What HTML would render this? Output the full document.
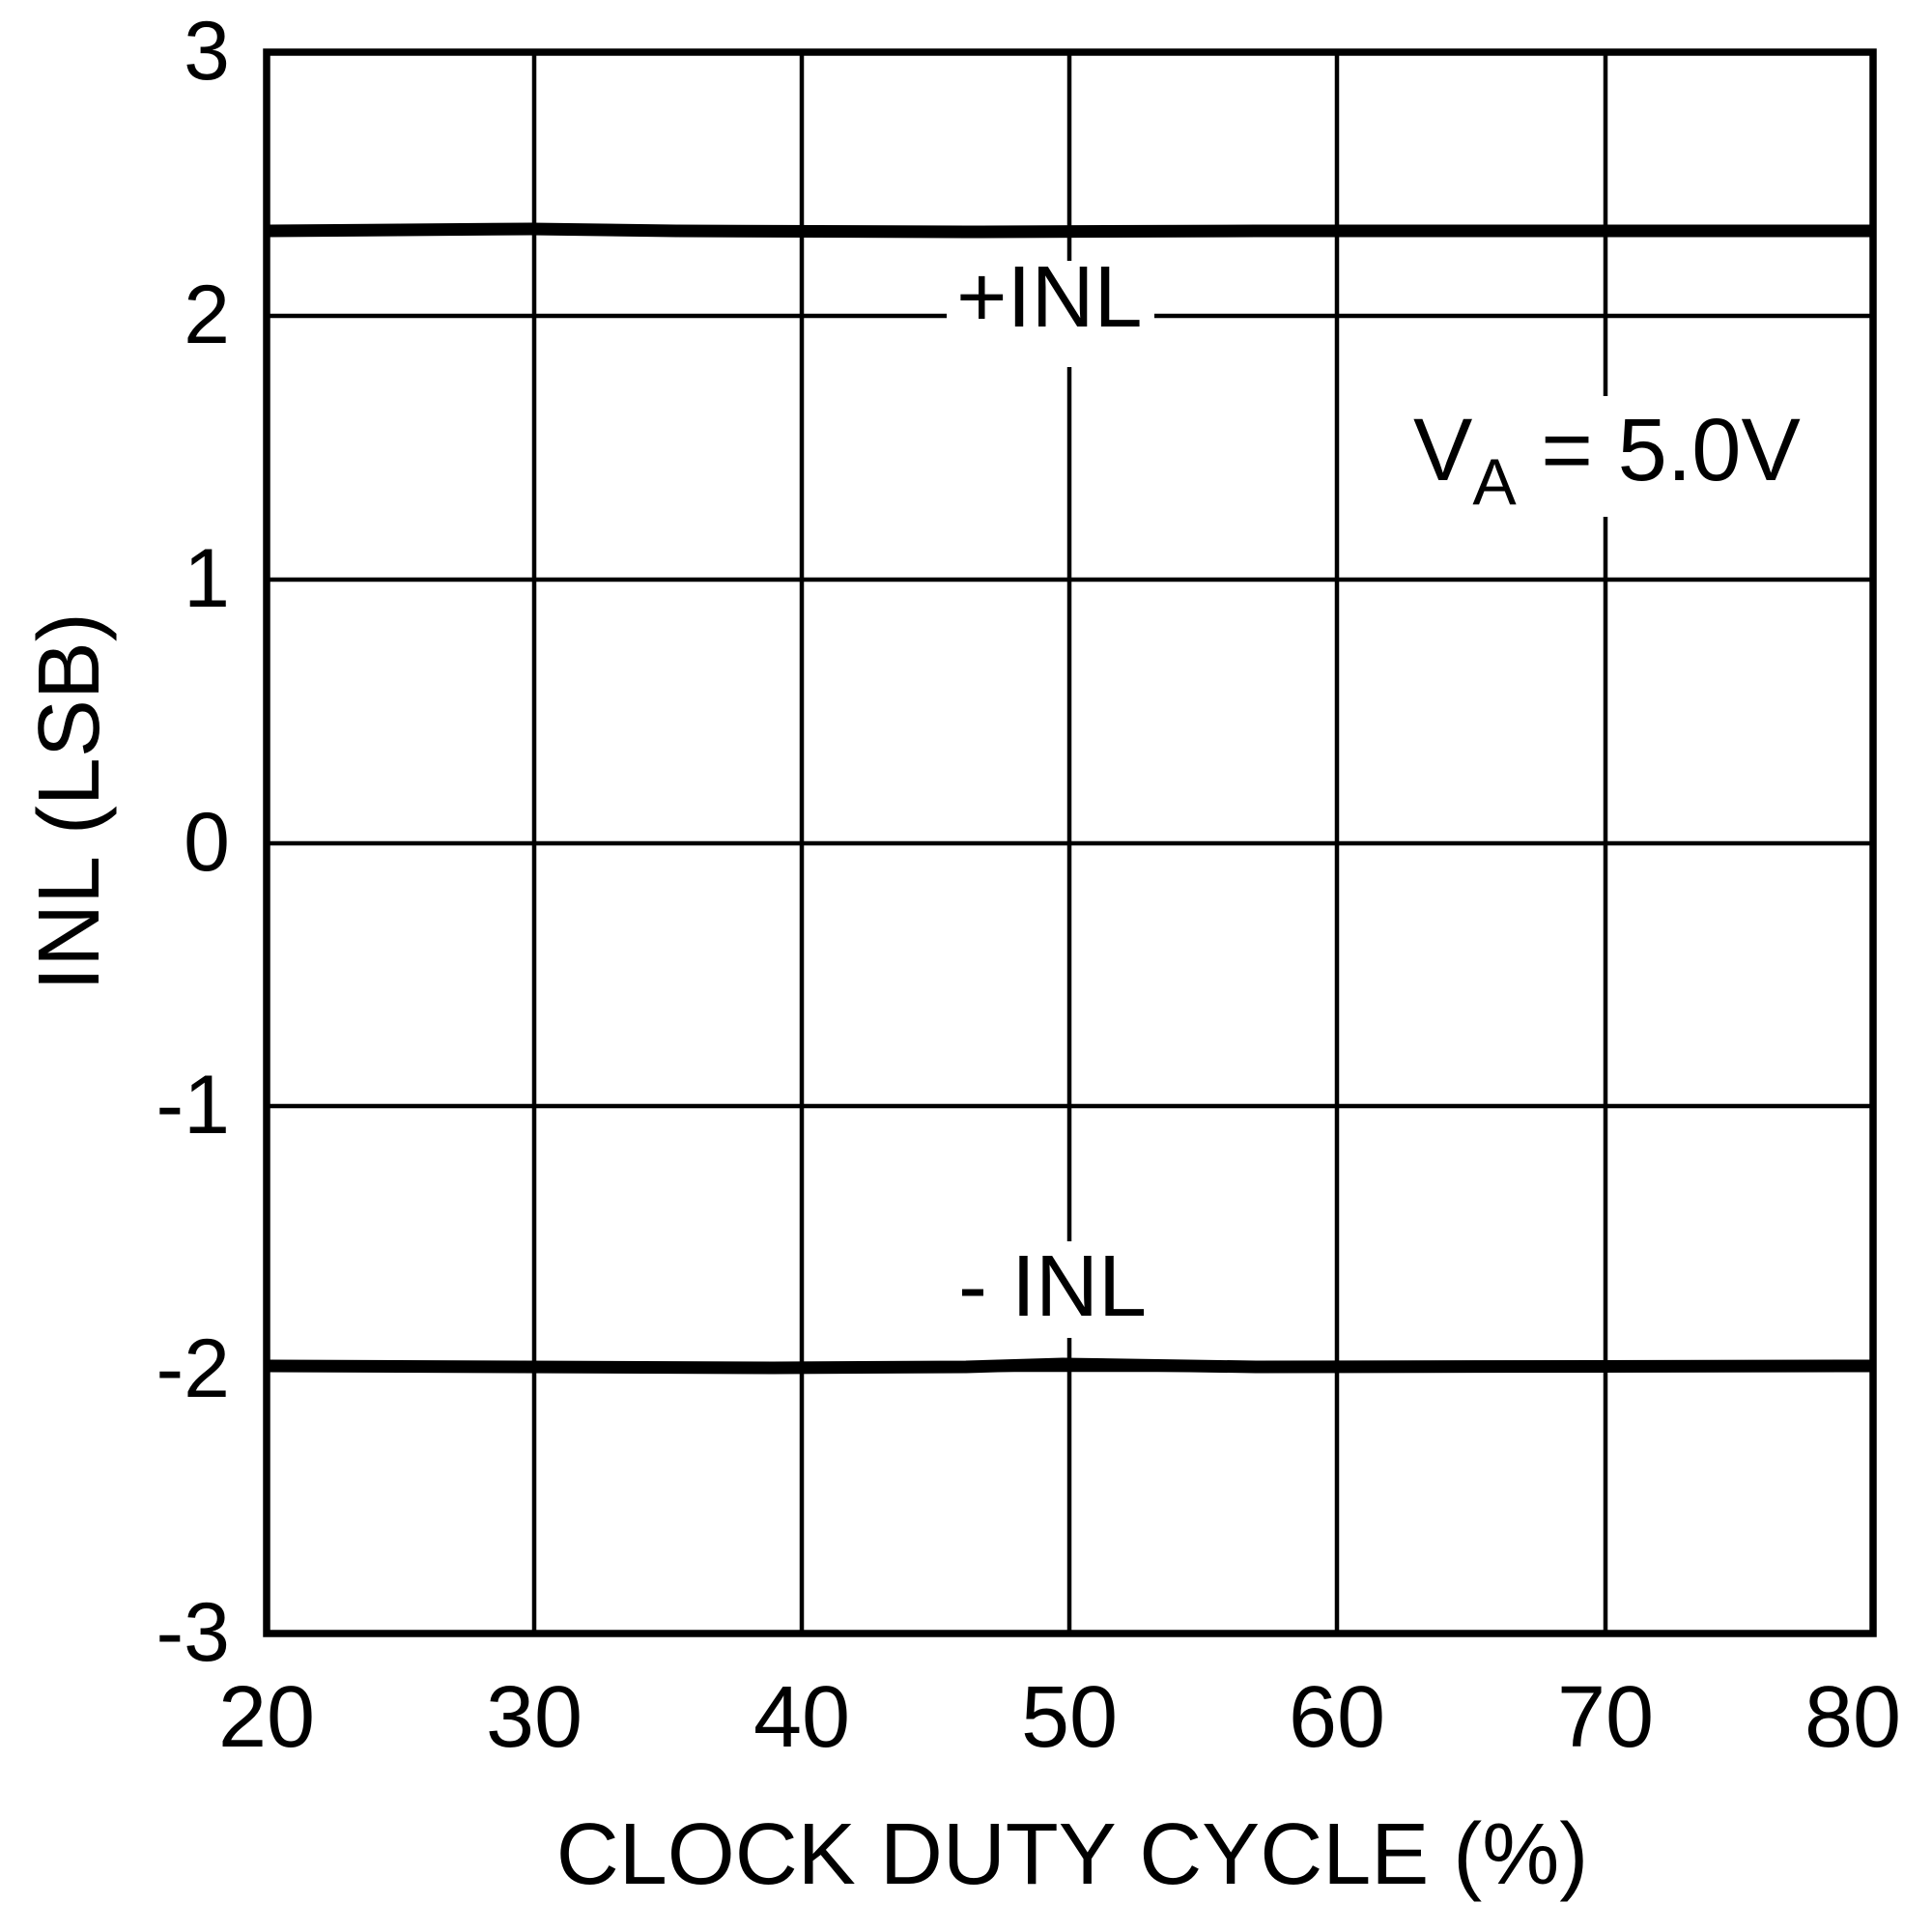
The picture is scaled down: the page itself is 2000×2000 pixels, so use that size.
<!DOCTYPE html>
<html><head><style>html,body{margin:0;padding:0;background:#fff}svg{display:block}</style></head>
<body>
<svg width="2000" height="2000" viewBox="0 0 2000 2000" xmlns="http://www.w3.org/2000/svg" font-family="Liberation Sans, Arial, sans-serif" fill="#000">
<rect width="2000" height="2000" fill="#fff"/>
<g stroke="#000" stroke-width="4.5">
<line x1="553" y1="54" x2="553" y2="1691"/>
<line x1="830" y1="54" x2="830" y2="1691"/>
<line x1="1107" y1="54" x2="1107" y2="1691"/>
<line x1="1384" y1="54" x2="1384" y2="1691"/>
<line x1="1662" y1="54" x2="1662" y2="1691"/>
<line x1="276" y1="327" x2="1939" y2="327"/>
<line x1="276" y1="600" x2="1939" y2="600"/>
<line x1="276" y1="873" x2="1939" y2="873"/>
<line x1="276" y1="1145" x2="1939" y2="1145"/>
<line x1="276" y1="1418" x2="1939" y2="1418"/>
</g>
<rect x="980" y="270" width="215" height="110" fill="#fff"/>
<rect x="980" y="1285" width="215" height="100" fill="#fff"/>
<rect x="1455" y="410" width="420" height="125" fill="#fff"/>
<g stroke="#000" stroke-width="13" fill="none">
<polyline points="278,239 550,237 700,239 1000,240 1300,239 1937,239"/>
<polyline points="278,1414 800,1416 1000,1415 1100,1412 1300,1415 1937,1414"/>
</g>
<rect x="276" y="54" width="1663" height="1637" fill="none" stroke="#000" stroke-width="7.5"/>
<g font-size="86" text-anchor="end">
<text x="238" y="82">3</text>
<text x="238" y="355">2</text>
<text x="238" y="628">1</text>
<text x="238" y="901">0</text>
<text x="238" y="1173">-1</text>
<text x="238" y="1446">-2</text>
<text x="238" y="1719">-3</text>
</g>
<g font-size="90" text-anchor="middle">
<text x="276" y="1808">20</text>
<text x="553" y="1808">30</text>
<text x="830" y="1808">40</text>
<text x="1107" y="1808">50</text>
<text x="1384" y="1808">60</text>
<text x="1662" y="1808">70</text>
<text x="1918" y="1808">80</text>
</g>
<text x="1110" y="1950" font-size="90" text-anchor="middle">CLOCK DUTY CYCLE (%)</text>
<text transform="translate(102,830) rotate(-90)" font-size="90" text-anchor="middle">INL (LSB)</text>
<text x="990" y="338" font-size="90">+INL</text>
<text x="992" y="1362" font-size="90">- INL</text>
<text x="1463" y="497" font-size="92">V<tspan font-size="68" dy="25">A</tspan><tspan dy="-25"> = 5.0V</tspan></text>
</svg>
</body></html>
